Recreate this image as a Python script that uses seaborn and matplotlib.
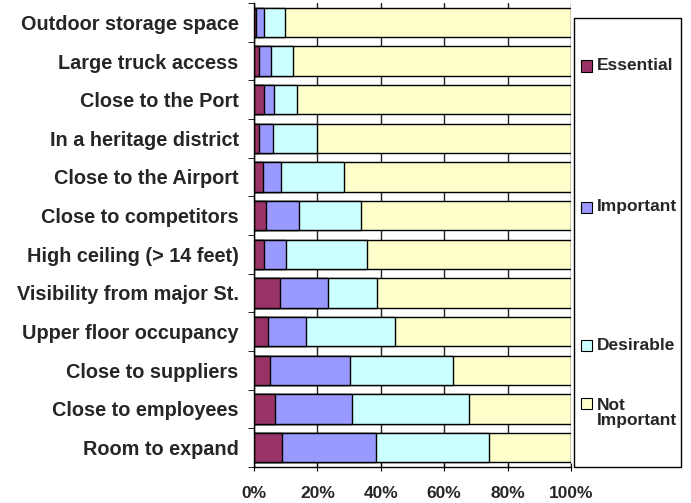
import pandas as pd
import matplotlib.pyplot as plt
import seaborn as sns
from matplotlib.patches import Rectangle
from matplotlib.ticker import PercentFormatter

# Survey data (percent of respondents)
factors = ['Outdoor storage space', 'Large truck access', 'Close to the Port',
           'In a heritage district', 'Close to the Airport', 'Close to competitors',
           'High ceiling (> 14 feet)', 'Visibility from major St.', 'Upper floor occupancy',
           'Close to suppliers', 'Close to employees', 'Room to expand']
essential = [0.6, 1.5, 3.3, 1.5, 2.7, 3.7, 3.0, 8.1, 4.4, 5.2, 6.6, 8.9]
important = [2.4, 4.0, 3.1, 4.5, 5.7, 10.5, 7.2, 15.1, 12.0, 25.1, 24.2, 29.6]
desirable = [6.7, 6.7, 7.1, 13.8, 20.1, 19.4, 25.6, 15.5, 28.2, 32.4, 36.9, 35.5]
not_important = [90.3, 87.8, 86.5, 80.2, 71.5, 66.4, 64.2, 61.3, 55.4, 37.3, 32.3, 26.0]

levels = ['Essential', 'Important', 'Desirable', 'Not Important']
colors = ['#993366', '#9999FF', '#CCFFFF', '#FFFFCC']

df = pd.DataFrame({'Factor': factors, 'Essential': essential, 'Important': important,
                   'Desirable': desirable, 'Not Important': not_important})

sns.set_style('white')
plt.rcParams['font.family'] = ['Liberation Sans', 'DejaVu Sans']
plt.rcParams['font.weight'] = 'bold'

fig = plt.figure(figsize=(6.91, 5.03), dpi=100)
ax = fig.add_axes([254 / 691, 1 - 467 / 503, 317 / 691, 464 / 503])

# stacked bars: draw cumulative totals from the back so each level shows
cum = df[levels].cumsum(axis=1)
for lvl, col in reversed(list(zip(levels, colors))):
    sns.barplot(data=cum, x=lvl, y=df['Factor'], orient='h', color=col,
                edgecolor='black', linewidth=1, width=0.76, ax=ax, saturation=1)

ax.set_xlim(0, 100)
ax.xaxis.set_major_formatter(PercentFormatter(decimals=0))
ax.set_xticks([0, 20, 40, 60, 80, 100])
ax.set_xlabel('')
ax.set_ylabel('')
ax.grid(axis='x', color='#222222', linewidth=1)
ax.set_axisbelow(True)
for s in ['top', 'right']:
    ax.spines[s].set_visible(False)
for s in ['left', 'bottom']:
    ax.spines[s].set_color('black')
    ax.spines[s].set_linewidth(1)
ax.tick_params(axis='x', length=6, color='black', direction='inout', bottom=True,
               labelsize=12.5, pad=11)
ax.tick_params(axis='y', which='major', length=0, labelsize=14.3, pad=11)
ax.set_yticks([i + 0.5 for i in range(-1, len(factors))], minor=True)
ax.tick_params(axis='y', which='minor', length=4, color='black', direction='out', left=True)
for t in ax.get_xticklabels() + ax.get_yticklabels():
    t.set_fontweight('bold')

# legend box
fig.patches.append(Rectangle((574 / 691, 1 - 467 / 503), 107 / 691, 449 / 503,
                             transform=fig.transFigure, facecolor='white',
                             edgecolor='black', linewidth=1))
text_y = [66, 207, 345, 413]
square_y = [66, 207, 345, 403]
for lvl, col, ty, sy in zip(levels, colors, text_y, square_y):
    fig.patches.append(Rectangle((581 / 691, 1 - (sy + 5.5) / 503), 11 / 691, 11 / 503,
                                 transform=fig.transFigure, facecolor=col,
                                 edgecolor='black', linewidth=0.8))
    label = 'Not\nImportant' if lvl == 'Not Important' else lvl
    fig.text(597 / 691, 1 - ty / 503, label, ha='left', va='center', fontsize=12.5,
             fontweight='bold', linespacing=1.05)

fig.savefig('out.png', dpi=100)
